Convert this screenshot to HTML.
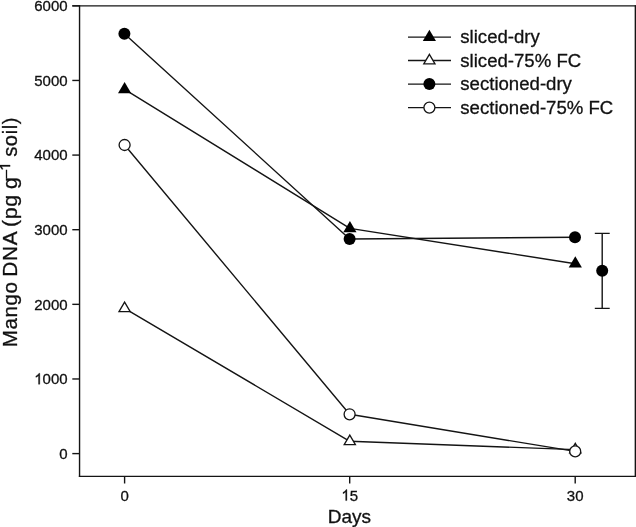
<!DOCTYPE html><html><head><meta charset="utf-8"><title>Chart</title><style>html,body{margin:0;padding:0;background:#fff;}svg{display:block;position:absolute;left:0;top:0;will-change:transform;}text{font-family:"Liberation Sans",sans-serif;fill:#111;stroke:#111;stroke-width:0.3px;}</style></head><body>
<svg width="636" height="527" viewBox="0 0 636 527">
<rect x="0" y="0" width="636" height="527" fill="#fff"/>
<g fill="none" stroke="#141414" stroke-width="1.4">
<path d="M72.3 5.85 H636" stroke-width="1.4"/><path d="M79.55 5.2 V476.9" stroke-width="1.4"/><path d="M78.85 476.35 H636" stroke-width="1.15"/><path d="M635.4 5.2 V476.9" stroke-width="1.5"/>
<path d="M72.3 453.60 H79.5"/>
<path d="M72.3 378.97 H79.5"/>
<path d="M72.3 304.34 H79.5"/>
<path d="M72.3 229.71 H79.5"/>
<path d="M72.3 155.08 H79.5"/>
<path d="M72.3 80.45 H79.5"/>
<path d="M72.3 5.82 H79.5"/>
<path d="M124.6 476.0 V483.5"/>
<path d="M349.7 476.0 V483.5"/>
<path d="M575.2 476.0 V483.5"/>
</g>
<text transform="translate(67.6 458.90) scale(1 1.02)" font-size="15" text-anchor="end">0</text>
<text transform="translate(67.6 384.27) scale(1 1.02)" font-size="15" text-anchor="end">000</text>
<path d="M763 0H583V1147Q518 1085 412.5 1023Q307 961 223 930V1104Q374 1175 487 1276Q600 1377 647 1472H763Z" transform="translate(34.23 384.27) scale(0.00732 -0.00747)" fill="#111" stroke="#111" stroke-width="41"/>
<text transform="translate(67.6 309.64) scale(1 1.02)" font-size="15" text-anchor="end">2000</text>
<text transform="translate(67.6 235.01) scale(1 1.02)" font-size="15" text-anchor="end">3000</text>
<text transform="translate(67.6 160.38) scale(1 1.02)" font-size="15" text-anchor="end">4000</text>
<text transform="translate(67.6 85.75) scale(1 1.02)" font-size="15" text-anchor="end">5000</text>
<text transform="translate(67.6 11.12) scale(1 1.02)" font-size="15" text-anchor="end">6000</text>
<text transform="translate(124.6 500.60) scale(1 1.02)" font-size="15" text-anchor="middle">0</text>
<text transform="translate(349.7 500.60) scale(1 1.02)" font-size="15" text-anchor="start">5</text>
<path d="M763 0H583V1147Q518 1085 412.5 1023Q307 961 223 930V1104Q374 1175 487 1276Q600 1377 647 1472H763Z" transform="translate(341.36 500.60) scale(0.00732 -0.00747)" fill="#111" stroke="#111" stroke-width="41"/>
<text transform="translate(575.2 500.60) scale(1 1.02)" font-size="15" text-anchor="middle">30</text>
<text transform="translate(349.4 522.80) scale(1 1.0)" font-size="19" text-anchor="middle">Days</text>
<text transform="translate(16.9 347.3) rotate(-90) scale(0.98 1)" font-size="21" letter-spacing="0.6">Mango</text>
<text transform="translate(16.9 276.7) rotate(-90) scale(0.995 1)" font-size="21" letter-spacing="0.6">DNA</text>
<text transform="translate(16.9 227.1) rotate(-90) scale(1.02 1)" font-size="21" letter-spacing="0.6">(pg</text>
<text transform="translate(16.9 189.0) rotate(-90) scale(1.0 1)" font-size="21" letter-spacing="0.6">g</text>
<text transform="translate(10.1 178.3) rotate(-90) scale(1.0 1)" font-size="15" letter-spacing="0.6">–</text>
<text transform="translate(16.9 156.8) rotate(-90) scale(0.96 1)" font-size="21" letter-spacing="0.6">soil)</text>
<path d="M124.60 89.30 L349.90 228.40 L575.30 263.70" fill="none" stroke="#141414" stroke-width="1.4" stroke-linejoin="round"/>
<path d="M124.60 81.90 L131.20 93.20 H118.00 Z" fill="#000"/>
<path d="M349.90 221.00 L356.50 232.30 H343.30 Z" fill="#000"/>
<path d="M575.30 256.30 L581.90 267.60 H568.70 Z" fill="#000"/>
<path d="M124.60 308.30 L349.80 441.30 L575.30 449.60" fill="none" stroke="#141414" stroke-width="1.4" stroke-linejoin="round"/>
<path d="M124.60 302.10 L130.20 311.60 H119.00 Z" fill="#fff" stroke="#141414" stroke-width="1.3" stroke-linejoin="miter"/>
<path d="M349.80 435.10 L355.40 444.60 H344.20 Z" fill="#fff" stroke="#141414" stroke-width="1.3" stroke-linejoin="miter"/>
<path d="M575.30 443.40 L580.90 452.90 H569.70 Z" fill="#fff" stroke="#141414" stroke-width="1.3" stroke-linejoin="miter"/>
<path d="M124.40 33.70 L349.60 239.00 L575.00 237.20" fill="none" stroke="#141414" stroke-width="1.4" stroke-linejoin="round"/>
<circle cx="124.40" cy="33.70" r="6" fill="#000"/>
<circle cx="349.60" cy="239.00" r="6" fill="#000"/>
<circle cx="575.00" cy="237.20" r="6" fill="#000"/>
<path d="M124.60 145.00 L349.60 414.30 L575.20 451.40" fill="none" stroke="#141414" stroke-width="1.4" stroke-linejoin="round"/>
<circle cx="124.60" cy="145.00" r="5.5" fill="#fff" stroke="#141414" stroke-width="1.3"/>
<circle cx="349.60" cy="414.30" r="5.5" fill="#fff" stroke="#141414" stroke-width="1.3"/>
<circle cx="575.20" cy="451.40" r="5.5" fill="#fff" stroke="#141414" stroke-width="1.3"/>
<path d="M763 0H583V1147Q518 1085 412.5 1023Q307 961 223 930V1104Q374 1175 487 1276Q600 1377 647 1472H763Z" transform="translate(10.10 170.90) rotate(-90) scale(0.00757 -0.00757)" fill="#111" stroke="#111" stroke-width="40"/>
<path d="M602.2 233.4 V308.4 M594.8 233.4 H609.7 M594.8 308.4 H609.7" fill="none" stroke="#141414" stroke-width="1.4"/>
<circle cx="602.20" cy="270.70" r="6" fill="#000"/>
<path d="M408 37.1 H451" fill="none" stroke="#141414" stroke-width="1.4"/>
<path d="M429.40 29.75 L436.00 41.05 H422.80 Z" fill="#000"/>
<text transform="translate(460.3 43.10) scale(1 1.01)" font-size="18.6" text-anchor="start">sliced-dry</text>
<path d="M408 60.5 H451" fill="none" stroke="#141414" stroke-width="1.4"/>
<path d="M429.40 54.35 L435.00 63.85 H423.80 Z" fill="#fff" stroke="#141414" stroke-width="1.3" stroke-linejoin="miter"/>
<text transform="translate(460.3 66.50) scale(1 1.01)" font-size="18.6" text-anchor="start">sliced-75% FC</text>
<path d="M408 84.1 H451" fill="none" stroke="#141414" stroke-width="1.4"/>
<circle cx="429.40" cy="84.10" r="6" fill="#000"/>
<text transform="translate(460.3 90.10) scale(1 1.01)" font-size="18.6" text-anchor="start">sectioned-dry</text>
<path d="M408 107.6 H451" fill="none" stroke="#141414" stroke-width="1.4"/>
<circle cx="429.40" cy="107.60" r="5.5" fill="#fff" stroke="#141414" stroke-width="1.3"/>
<text transform="translate(460.3 113.60) scale(1 1.01)" font-size="18.6" text-anchor="start">sectioned-75% FC</text>
</svg></body></html>
